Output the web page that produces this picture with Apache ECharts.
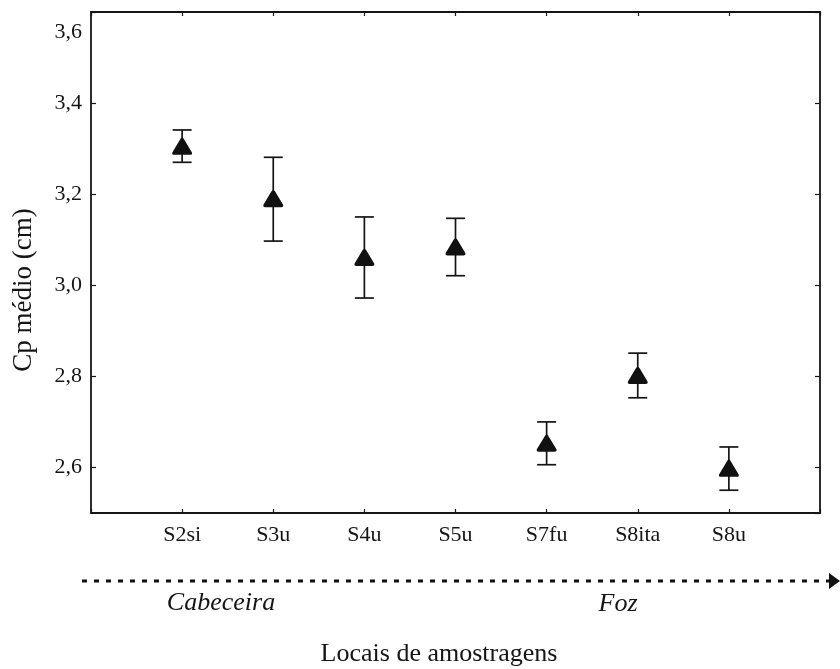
<!DOCTYPE html>
<html>
<head>
<meta charset="utf-8">
<script src="https://cdn.jsdelivr.net/npm/echarts@6/dist/echarts.min.js"></script>
<style>
html,body{margin:0;padding:0;background:#fff;}
#c{width:840px;height:669px;}
</style>
</head>
<body>
<div id="c"></div>
<script>
// ---- data ----
var categories = ['S2si', 'S3u', 'S4u', 'S5u', 'S7fu', 'S8ita', 'S8u'];
var means = [3.305, 3.190, 3.061, 3.084, 2.653, 2.802, 2.598];
var upper = [3.341, 3.281, 3.150, 3.147, 2.700, 2.851, 2.645];
var lower = [3.270, 3.097, 2.972, 3.021, 2.606, 2.753, 2.550];
var yTicks = [2.6, 2.8, 3.0, 3.2, 3.4, 3.6];
var yTickLabels = ['2,6', '2,8', '3,0', '3,2', '3,4', '3,6'];
var yTitle = 'Cp médio (cm)';
var xTitle = 'Locais de amostragens';
var startLabel = 'Cabeceira';
var endLabel = 'Foz';

var FONT = '"Liberation Serif", "Times New Roman", serif';
var INK = '#151515';

var pointData = means.map(function (m, i) { return [i + 1, m]; });
var errData = categories.map(function (c, i) { return [i + 1, lower[i], upper[i]]; });

var chart = echarts.init(document.getElementById('c'), null, {renderer: 'canvas'});

function yLabel(v) {
  for (var i = 0; i < yTicks.length; i++) {
    if (Math.abs(yTicks[i] - v) < 1e-6) {
      return i === yTicks.length - 1 ? '{top|' + yTickLabels[i] + '}' : yTickLabels[i];
    }
  }
  return '';
}

var axisLineStyle = {color: INK, width: 1.8};
var option = {
  backgroundColor: '#ffffff',
  animation: false,
  grid: {left: 91, top: 12, right: 20, bottom: 156, containLabel: false},
  xAxis: [{
    type: 'value', min: 0, max: 8, interval: 1, position: 'bottom',
    axisLine: {show: true, onZero: false, lineStyle: axisLineStyle},
    axisTick: {show: true, inside: true, length: 4, lineStyle: {color: INK, width: 1.2}},
    splitLine: {show: false},
    axisLabel: {
      show: true, margin: 11, color: INK, fontFamily: FONT, fontSize: 22,
      formatter: function (v) { return categories[v - 1] || ''; }
    }
  }, {
    type: 'value', min: 0, max: 8, interval: 1, position: 'top',
    axisLine: {show: true, onZero: false, lineStyle: axisLineStyle},
    axisTick: {show: true, inside: true, length: 4, lineStyle: {color: INK, width: 1.2}},
    splitLine: {show: false},
    axisLabel: {show: false}
  }],
  yAxis: [{
    type: 'value', min: 2.5, max: 3.6, splitNumber: 5, position: 'left',
    axisLine: {show: true, onZero: false, lineStyle: axisLineStyle},
    axisTick: {show: true, inside: true, length: 5, lineStyle: {color: INK, width: 1.2}},
    splitLine: {show: false},
    axisLabel: {
      show: true, margin: 9, color: INK, fontFamily: FONT, fontSize: 22,
      showMinLabel: false,
      formatter: yLabel,
      rich: {top: {fontFamily: FONT, fontSize: 22, color: INK, padding: [40, 0, 0, 0]}}
    }
  }, {
    type: 'value', min: 2.5, max: 3.6, splitNumber: 5, position: 'right',
    axisLine: {show: true, onZero: false, lineStyle: axisLineStyle},
    axisTick: {show: true, inside: true, length: 5, lineStyle: {color: INK, width: 1.2}},
    splitLine: {show: false},
    axisLabel: {show: false}
  }],
  series: [{
    type: 'custom',
    xAxisIndex: 0, yAxisIndex: 0,
    data: errData,
    renderItem: function (params, api) {
      var x = api.value(0);
      var lo = api.coord([x, api.value(1)]);
      var hi = api.coord([x, api.value(2)]);
      var half = 9.5;
      var st = {stroke: INK, lineWidth: 1.7};
      return {
        type: 'group',
        children: [
          {type: 'line', shape: {x1: lo[0], y1: lo[1], x2: hi[0], y2: hi[1]}, style: st},
          {type: 'line', shape: {x1: lo[0] - half, y1: lo[1], x2: lo[0] + half, y2: lo[1]}, style: st},
          {type: 'line', shape: {x1: hi[0] - half, y1: hi[1], x2: hi[0] + half, y2: hi[1]}, style: st}
        ]
      };
    },
    z: 2
  }, {
    type: 'scatter',
    xAxisIndex: 0, yAxisIndex: 0,
    data: pointData,
    symbol: 'path://M50,6 C54,6 57,9 59,13 L96,80 C100,88 96,94 88,94 L12,94 C4,94 0,88 4,80 L41,13 C43,9 46,6 50,6 Z',
    symbolSize: [20, 17],
    itemStyle: {color: '#111111', opacity: 1},
    z: 3
  }],
  graphic: [
    {type: 'text', x: 24, y: 290, rotation: Math.PI / 2,
      style: {text: yTitle, font: '27px ' + FONT, fill: INK, textAlign: 'center', textVerticalAlign: 'middle'}},
    {type: 'text', x: 439, y: 654,
      style: {text: xTitle, font: '26px ' + FONT, fill: INK, textAlign: 'center', textVerticalAlign: 'middle'}},
    {type: 'text', x: 221, y: 603,
      style: {text: startLabel, font: 'italic 26px ' + FONT, fill: INK, textAlign: 'center', textVerticalAlign: 'middle'}},
    {type: 'text', x: 618, y: 604,
      style: {text: endLabel, font: 'italic 26px ' + FONT, fill: INK, textAlign: 'center', textVerticalAlign: 'middle'}},
    {type: 'line', shape: {x1: 82, y1: 581, x2: 830, y2: 581},
      style: {stroke: '#111', lineWidth: 3, lineDash: [5, 7]}},
    {type: 'polygon', shape: {points: [[829, 573], [840, 581], [829, 589]]},
      style: {fill: '#111'}}
  ]
};
chart.setOption(option);
</script>
</body>
</html>
